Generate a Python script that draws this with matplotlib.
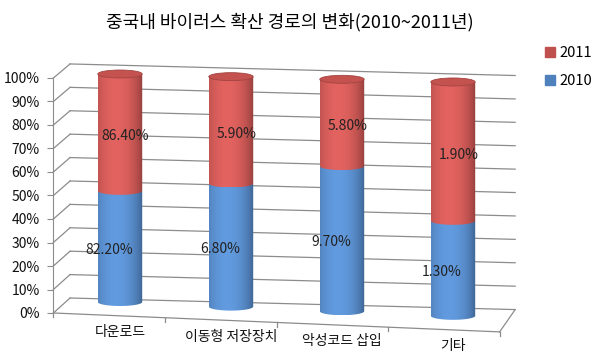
import numpy as np
import matplotlib
matplotlib.use("Agg")
import matplotlib.pyplot as plt
from matplotlib.path import Path
from matplotlib.patches import PathPatch, Ellipse, Patch

plt.rcParams['font.family'] = ['Noto Sans CJK KR', 'DejaVu Sans']

categories = ['다운로드', '이동형 저장장치', '악성코드 삽입', '기타']
v2010 = [82.20, 6.80, 9.70, 1.30]
v2011 = [86.40, 5.90, 5.80, 1.90]
yticks = list(range(0, 101, 10))
title = '중국내 바이러스 확산 경로의 변화(2010~2011년)'

RED = np.array([192, 80, 77]) / 255
BLUE = np.array([79, 129, 189]) / 255
GRID = '#8c8c8c'

# fake 3d frame, in data units (x = category index, y = percent)
XL, XB, XR, XF = -0.60, -0.45, 3.56, 3.42


def back_y(v, x):
    return 6.38 + 0.996 * v - 1.228 * (x - XB)


def front_y(x):
    return -2.0 * (x - XL)


def seg_path(xc, w, y0, y1, eh):
    t = np.linspace(np.pi, 2 * np.pi, 40)
    arc = np.column_stack([xc + w / 2 * np.cos(t), y0 + eh / 2 * np.sin(t)])
    verts = np.vstack([[xc - w / 2, y1], arc, [xc + w / 2, y1], [xc - w / 2, y1]])
    codes = [Path.MOVETO] + [Path.LINETO] * (len(verts) - 2) + [Path.CLOSEPOLY]
    return Path(verts, codes)


def shade(color, n=60):
    t = np.linspace(0, 1, n)
    k = np.clip(1 - ((t - 0.40) / 0.62) ** 2, 0, 1) ** 0.8
    dark = color * 0.72
    light = np.minimum(color * 1.14 + 0.03, 1)
    return (dark[None, :] * (1 - k[:, None]) + light[None, :] * k[:, None])[None, :, :]


fig = plt.figure(figsize=(5.97, 3.61), dpi=100)
ax = fig.add_axes([0, 0, 1, 1])

# walls and floor
for v in yticks:
    ax.plot([XL, XB], [v, back_y(v, XB)], color=GRID, lw=0.9, zorder=1)
    ax.plot([XB, XR], [back_y(v, XB), back_y(v, XR)], color=GRID, lw=0.9, zorder=1)
ax.plot([XL, XF], [0, front_y(XF)], color=GRID, lw=0.9, zorder=1)
ax.plot([XF, XR], [front_y(XF), back_y(0, XR)], color=GRID, lw=0.9, zorder=1)
for xt in np.linspace(XL, XF, 5):
    ax.plot([xt, xt], [front_y(xt), front_y(xt) - 1.8], color=GRID, lw=0.9, zorder=1)

# cylinders
w, eh = 0.40, 3.4
for i, (a, b) in enumerate(zip(v2010, v2011)):
    base = 4.68 - 1.96 * i
    top = 101.7 - 1.13 * i
    mid = base + (top - base) * a / (a + b)
    for y0, y1, col, z in [(base, mid, BLUE, 2), (mid, top, RED, 3)]:
        pp = PathPatch(seg_path(i, w, y0, y1, eh), fc='none', ec='none', zorder=z)
        ax.add_patch(pp)
        im = ax.imshow(shade(col), extent=(i - w / 2, i + w / 2, y0 - eh / 2, y1),
                       aspect='auto', zorder=z, interpolation='bilinear')
        im.set_clip_path(pp)
    ax.add_patch(Ellipse((i, top), w, eh, fc=RED * 1.02, ec=RED * 0.85, lw=0.6, zorder=4))
    ax.text(i + 0.05, (mid + top) / 2 - 1.5, f'{b:.2f}%', ha='center', va='center',
            fontsize=10, color='#222222', zorder=5)
    ax.text(i - 0.10, (base + mid) / 2 - 1.5, f'{a:.2f}%', ha='center', va='center',
            fontsize=10, color='#222222', zorder=5)
    ax.text(i, front_y(i) - 6.8, categories[i], ha='center', va='center',
            fontsize=10, fontweight='medium', color='#111111')

ax.set_xlim(-120 / 111, 477 / 111)
ax.set_ylim(-48 / 2.35, 313 / 2.35)

for s in ['top', 'right', 'bottom']:
    ax.spines[s].set_visible(False)
ax.spines['left'].set_position(('data', XL))
ax.spines['left'].set_bounds(0, 100)
ax.spines['left'].set_color(GRID)
ax.set_xticks([])
ax.set_yticks(yticks)
ax.set_yticklabels([f'{v}%' for v in yticks])
ax.tick_params(axis='y', length=4, color=GRID, labelsize=10, pad=6, labelcolor='#111111')

fig.text(290 / 597, 1 - 22 / 361, title, ha='center', va='center', fontsize=13,
         fontweight='medium')

handles = [Patch(color=RED), Patch(color=BLUE)]
fig.legend(handles, ['2011', '2010'], loc='upper left', bbox_to_anchor=(545 / 597, 1 - 46 / 361),
           frameon=False, handlelength=0.7, handleheight=0.7, handletextpad=0.3,
           labelspacing=0.95, fontsize=10.5, borderaxespad=0, borderpad=0)

fig.savefig('out.png', dpi=100)
